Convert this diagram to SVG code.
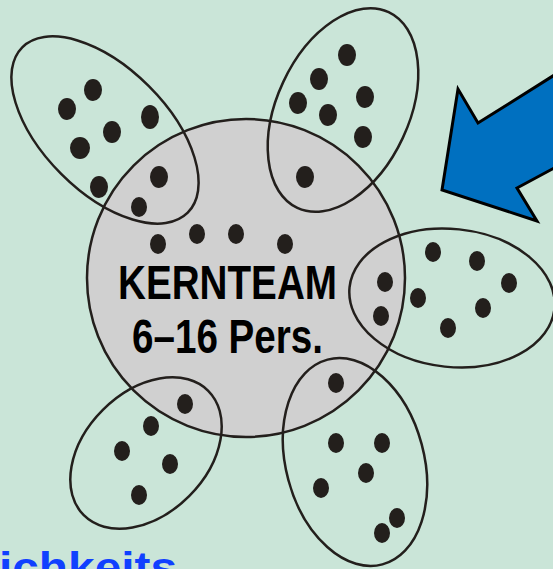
<svg xmlns="http://www.w3.org/2000/svg" width="553" height="569" viewBox="0 0 553 569">
<defs>
<style>
.ring{fill:none;stroke:#231F1C;stroke-width:2.5}
.dot{fill:#231F1C}
.core{fill:#D0D0D0;stroke:#231F1C;stroke-width:2.5}
.lbl{font-family:"Liberation Sans",Arial,sans-serif;font-weight:bold;fill:#000;font-size:48px}
.blue{font-family:"Liberation Sans",Arial,sans-serif;font-weight:bold;fill:#1040FF;font-size:42px}
</style>
</defs>
<rect width="553" height="569" fill="#CAE5D8"/>
<g id="kernteam">
<circle class="core" cx="246" cy="278" r="159"/>
<g class="dot">
<ellipse cx="158" cy="244" rx="8" ry="10"/>
<ellipse cx="197" cy="234" rx="8" ry="10"/>
<ellipse cx="236" cy="234" rx="8" ry="10"/>
<ellipse cx="285" cy="244" rx="8" ry="10"/>
</g>
<text class="lbl" x="118" y="299" textLength="219" lengthAdjust="spacingAndGlyphs">KERNTEAM</text>
<text class="lbl" x="132" y="353" textLength="191" lengthAdjust="spacingAndGlyphs">6–16 Pers.</text>
</g>
<g id="gruppe-oben-links">
<ellipse class="ring" cx="0" cy="0" rx="117" ry="62" transform="translate(105 130) rotate(45)"/>
<g class="dot">
<ellipse cx="93" cy="90" rx="9" ry="11"/>
<ellipse cx="67" cy="109" rx="9" ry="11"/>
<ellipse cx="150" cy="117" rx="9" ry="12"/>
<ellipse cx="112" cy="132" rx="9" ry="11"/>
<ellipse cx="80" cy="148" rx="10" ry="11"/>
<ellipse cx="99" cy="187" rx="9" ry="11"/>
<ellipse cx="159" cy="177" rx="9" ry="11"/>
<ellipse cx="139" cy="207" rx="8" ry="10"/>
</g>
</g>
<g id="gruppe-oben">
<ellipse class="ring" cx="0" cy="0" rx="66" ry="108" transform="translate(343 110) rotate(25)"/>
<g class="dot">
<ellipse cx="347" cy="55" rx="9" ry="11"/>
<ellipse cx="319" cy="79" rx="9" ry="11"/>
<ellipse cx="298" cy="103" rx="9" ry="11"/>
<ellipse cx="328" cy="115" rx="9" ry="11"/>
<ellipse cx="365" cy="97" rx="9" ry="11"/>
<ellipse cx="363" cy="137" rx="9" ry="11"/>
<ellipse cx="305" cy="177" rx="9" ry="11"/>
</g>
</g>
<g id="gruppe-rechts">
<ellipse class="ring" cx="0" cy="0" rx="103" ry="69" transform="translate(452 298) rotate(6)"/>
<g class="dot">
<ellipse cx="433" cy="252" rx="8" ry="10"/>
<ellipse cx="477" cy="261" rx="8" ry="10"/>
<ellipse cx="509" cy="283" rx="8" ry="10"/>
<ellipse cx="385" cy="282" rx="8" ry="10"/>
<ellipse cx="418" cy="298" rx="8" ry="10"/>
<ellipse cx="483" cy="308" rx="8" ry="10"/>
<ellipse cx="381" cy="316" rx="8" ry="10"/>
<ellipse cx="448" cy="328" rx="8" ry="10"/>
</g>
</g>
<g id="gruppe-unten-rechts">
<ellipse class="ring" cx="0" cy="0" rx="69" ry="106" transform="translate(355 462) rotate(-15)"/>
<g class="dot">
<ellipse cx="336" cy="383" rx="8" ry="10"/>
<ellipse cx="336" cy="443" rx="8" ry="10"/>
<ellipse cx="382" cy="443" rx="8" ry="10"/>
<ellipse cx="366" cy="473" rx="8" ry="10"/>
<ellipse cx="321" cy="488" rx="8" ry="10"/>
<ellipse cx="397" cy="518" rx="8" ry="10"/>
<ellipse cx="382" cy="533" rx="8" ry="10"/>
</g>
</g>
<g id="gruppe-unten-links">
<ellipse class="ring" cx="0" cy="0" rx="88" ry="61" transform="translate(146 453) rotate(-45)"/>
<g class="dot">
<ellipse cx="185" cy="404" rx="8" ry="10"/>
<ellipse cx="151" cy="426" rx="8" ry="10"/>
<ellipse cx="122" cy="451" rx="8" ry="10"/>
<ellipse cx="170" cy="464" rx="8" ry="10"/>
<ellipse cx="139" cy="495" rx="8" ry="10"/>
</g>
</g>
<g id="connectors">
<polygon points="442,190 458,89 478,123 556,74 556,167 517,188 537,221" fill="#0070C0" stroke="#000" stroke-width="3" stroke-linejoin="miter"/>
</g>
<text class="blue" x="-1" y="582" textLength="178" lengthAdjust="spacingAndGlyphs">ichkeits</text>
</svg>
